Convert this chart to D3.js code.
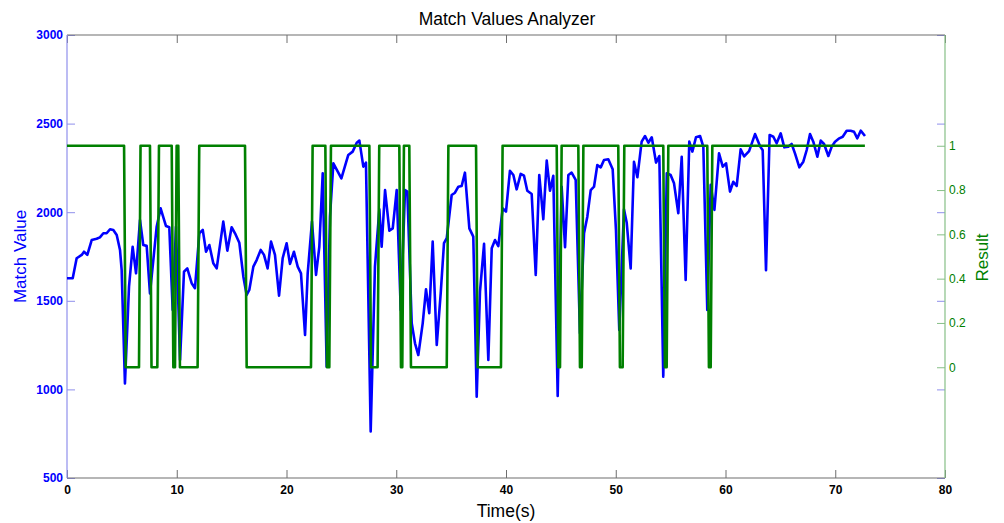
<!DOCTYPE html>
<html>
<head>
<meta charset="utf-8">
<script src="https://cdn.jsdelivr.net/npm/d3@7"></script>
<style>
  html, body { margin: 0; padding: 0; background: #fff; }
  svg { display: block; font-family: "Liberation Sans", Arial, sans-serif; }
</style>
</head>
<body>
<svg id="chart" width="1004" height="523"></svg>
<script>
// ---- Data ----
const timeTicks = [0, 10, 20, 30, 40, 50, 60, 70, 80];
const matchTicks = [500, 1000, 1500, 2000, 2500, 3000];
const resultTicks = [0, 0.2, 0.4, 0.6, 0.8, 1];

const matchTimes = [0, 0.52, 0.88, 1.34, 1.55, 1.85, 2.25, 2.7, 3.0, 3.31, 3.61, 3.92, 4.22, 4.53, 4.83, 4.98,
  5.28, 5.65, 5.98, 6.29, 6.65, 6.95, 7.26, 7.56, 8.17, 8.53, 9.02, 9.32, 9.63, 9.93, 10.3, 10.66, 10.96,
  11.36, 11.66, 12.06, 12.37, 12.67, 12.97, 13.33, 13.64, 14.24, 14.61, 15.0, 15.31, 15.7, 16.07, 16.37,
  16.61, 16.98, 17.28, 17.65, 17.95, 18.28, 18.59, 18.95, 19.32, 19.65, 20.01, 20.32, 20.68, 21.02, 21.32,
  21.69, 21.93, 22.32, 22.69, 22.99, 23.3, 23.66, 23.96, 24.27, 25.0, 25.63, 26.03, 26.4, 26.64, 27.0, 27.24,
  27.67, 28.06, 28.46, 28.67, 28.98, 29.37, 29.68, 30.04, 30.41, 30.8, 31.01, 31.41, 31.71, 32.01, 32.41,
  32.71, 33.01, 33.32, 33.69, 34.05, 34.35, 34.6, 35.05, 35.35, 35.66, 35.96, 36.26, 36.66, 37.02, 37.33,
  37.63, 38.0, 38.39, 38.7, 39.0, 39.3, 39.7, 40.0, 40.36, 40.67, 40.97, 41.34, 41.64, 41.94, 42.34, 42.71,
  43.03, 43.4, 43.71, 44.01, 44.31, 44.71, 45.07, 45.38, 45.68, 45.98, 46.35, 46.74, 47.11, 47.41, 47.72,
  48.02, 48.32, 48.63, 48.93, 49.32, 49.72, 50.02, 50.32, 50.75, 51.0, 51.36, 51.66, 51.97, 52.36, 52.67,
  52.97, 53.28, 53.67, 53.97, 54.33, 54.65, 55.0, 55.31, 55.7, 56.01, 56.37, 56.7, 56.98, 57.31, 57.68,
  57.98, 58.34, 58.65, 58.99, 59.41, 59.75, 60.05, 60.41, 60.71, 61.02, 61.38, 61.7, 62.15, 62.69, 63.17,
  63.39, 63.69, 64.02, 64.36, 64.66, 65.03, 65.36, 65.72, 66.03, 66.33, 66.73, 67.09, 67.4, 67.7, 68.0,
  68.37, 68.68, 68.98, 69.37, 69.68, 69.98, 70.37, 70.68, 71.04, 71.4, 71.71, 72.01, 72.32, 72.71];

const matchValues = [1627, 1627, 1740, 1759, 1777, 1759, 1843, 1850, 1858, 1881, 1881, 1904, 1900, 1871, 1787, 1674,
  1034, 1580, 1805, 1655, 1956, 1815, 1810, 1542, 1918, 2022, 1922, 1915, 1448, 1918, 1166, 1664, 1683,
  1599, 1571, 1881, 1900, 1777, 1815, 1712, 1683, 1947, 1783, 1915, 1881, 1828, 1636, 1533,
  1561, 1693, 1730, 1787, 1759, 1683, 1834, 1759, 1529, 1740, 1825, 1708, 1777, 1693, 1655,
  1307, 1655, 1947, 1646, 1805, 2220, 1128, 1975, 2276, 2191, 2323, 2342, 2392, 2404, 2257, 2280,
  762, 1693, 2016, 1805, 2125, 1896, 1909, 2125, 1448, 2125, 2116, 1373, 1260, 1194, 1373,
  1565, 1430, 1834, 1251, 1542, 1825, 1853, 2097, 2110, 2144, 2148, 2223, 1909, 1862, 959,
  1552, 1821, 1166, 1796, 1843, 1809, 2022, 2003, 2234, 2210, 2129, 2216, 2206, 2121, 2103, 1646,
  2210, 1960, 2291, 2121, 2206, 963, 2144, 1802, 2210, 2223, 2182, 1317, 1881, 1975, 2125,
  2144, 2266, 2253, 2295, 2299, 2242, 1900, 1335, 2016, 1940, 1683, 2285, 2197, 2398, 2430,
  2392, 2423, 2280, 2317, 1072, 2220, 2210, 2163, 1994, 2313, 1617, 2398, 2342, 2423, 2430,
  2370, 1448, 2154, 2013, 2332, 2257, 2276, 2116, 2172, 2148, 2355, 2315, 2345, 2441, 2370,
  2350, 1672, 2436, 2426, 2389, 2445, 2366, 2370, 2385, 2332, 2253, 2285, 2351, 2441, 2398,
  2313, 2404, 2385, 2317, 2370, 2398, 2417, 2426, 2460, 2460, 2454, 2417, 2460, 2430];

const resultTimes = [0, 5.2, 5.35, 6.56, 6.7, 7.56, 7.7, 8.23, 8.38, 9.54, 9.69, 9.84, 9.99, 10.14, 10.29,
  11.9, 12.05, 16.22, 16.37, 22.23, 22.38, 23.54, 23.69, 23.9, 24.05, 27.55, 27.7, 28.3, 28.45,
  30.28, 30.43, 30.55, 30.7, 31.19, 31.34, 34.6, 34.75, 37.27, 37.42, 39.54, 39.69, 44.62, 44.77,
  44.92, 45.07, 46.59, 46.74, 46.9, 47.05, 50.23, 50.38, 50.63, 50.78, 54.33, 54.48, 54.64, 54.79,
  58.34, 58.49, 58.65, 58.8, 72.7];
const resultValues = [1, 1, 0, 0, 1, 1, 0, 0, 1, 1, 0, 0, 1, 1, 0,
  0, 1, 1, 0, 0, 1, 1, 0, 0, 1, 1, 0, 0, 1,
  1, 0, 0, 1, 1, 0, 0, 1, 1, 0, 0, 1, 1, 0,
  0, 1, 1, 0, 0, 1, 1, 0, 0, 1, 1, 0, 0, 1,
  1, 0, 0, 1, 1];

// ---- Layout ----
const svg = d3.select("#chart");
const L = 67, R = 945, T = 35, B = 478;

const x = d3.scaleLinear().domain([0, 80]).range([L, R]);
const yL = d3.scaleLinear().domain([500, 3000]).range([B, T]);
const yR = d3.scaleLinear().domain([-0.5, 1.5]).range([B, T]);

const blue = "#0000ff", green = "#008000";
const gray = "#6e6e6e", lavender = "#8f8fec", paleGreen = "#86bf86";

function styleAxis(g, lineColor, textColor, weight) {
  g.select(".domain").remove();
  g.selectAll(".tick line").attr("stroke", lineColor).attr("stroke-width", 1);
  g.selectAll(".tick text").attr("fill", textColor).style("font-size", "12px")
    .style("font-weight", weight).style("font-family", '"Liberation Sans", Arial, sans-serif');
}

// Bottom axis
const gB = svg.append("g").attr("transform", `translate(0,${B})`)
  .call(d3.axisBottom(x).tickValues(timeTicks).tickSize(-8).tickPadding(7).tickFormat(d3.format("d")));
styleAxis(gB, gray, "#000", "bold");
// Top axis (mirror ticks, no labels)
const gT = svg.append("g").attr("transform", `translate(0,${T})`)
  .call(d3.axisTop(x).tickValues(timeTicks).tickSize(-8).tickFormat(""));
styleAxis(gT, gray, "#000", "bold");

// Left axis
const gL = svg.append("g").attr("transform", `translate(${L},0)`)
  .call(d3.axisLeft(yL).tickValues(matchTicks).tickSize(-8).tickPadding(4).tickFormat(d3.format("d")));
styleAxis(gL, lavender, blue, "bold");
// Right mirror of left ticks
const gLR = svg.append("g").attr("transform", `translate(${R},0)`)
  .call(d3.axisRight(yL).tickValues(matchTicks).tickSize(-8).tickFormat(""));
styleAxis(gLR, lavender, blue, "bold");
// Right axis (Result)
const gR = svg.append("g").attr("transform", `translate(${R},0)`)
  .call(d3.axisRight(yR).tickValues(resultTicks).tickSize(-8).tickPadding(4).tickFormat(d => d3.format("")(+d.toFixed(1))));
styleAxis(gR, paleGreen, green, "normal");

// Frame lines
svg.append("line").attr("x1", L).attr("x2", R).attr("y1", B).attr("y2", B).attr("stroke", gray).attr("stroke-width", 1.2);
svg.append("line").attr("x1", L).attr("x2", R).attr("y1", T).attr("y2", T).attr("stroke", gray).attr("stroke-width", 1.2);
svg.append("line").attr("x1", L).attr("x2", L).attr("y1", T).attr("y2", B).attr("stroke", lavender).attr("stroke-width", 1.2);
svg.append("line").attr("x1", R).attr("x2", R).attr("y1", T).attr("y2", B).attr("stroke", paleGreen).attr("stroke-width", 1.2);

// Lines
const matchData = matchTimes.map((t, i) => [t, matchValues[i]]);
const resultData = resultTimes.map((t, i) => [t, resultValues[i]]);

svg.append("path").datum(matchData)
  .attr("fill", "none").attr("stroke", blue).attr("stroke-width", 2.6).attr("stroke-linejoin", "round")
  .attr("d", d3.line().x(d => x(d[0])).y(d => yL(d[1])));

svg.append("path").datum(resultData)
  .attr("fill", "none").attr("stroke", green).attr("stroke-width", 2.6).attr("stroke-linejoin", "round")
  .attr("d", d3.line().x(d => x(d[0])).y(d => yR(d[1])));

// Titles
svg.append("text").attr("x", 507).attr("y", 25).attr("text-anchor", "middle")
  .style("font-size", "17.5px").attr("fill", "#000").text("Match Values Analyzer");
svg.append("text").attr("x", 506).attr("y", 517).attr("text-anchor", "middle")
  .style("font-size", "17.5px").attr("fill", "#000").text("Time(s)");
svg.append("text").attr("transform", "translate(26,256.5) rotate(-90)").attr("text-anchor", "middle")
  .style("font-size", "17px").attr("fill", blue).text("Match Value");
svg.append("text").attr("transform", "translate(988,257.5) rotate(-90)").attr("text-anchor", "middle")
  .style("font-size", "17px").attr("fill", green).text("Result");
</script>
</body>
</html>
